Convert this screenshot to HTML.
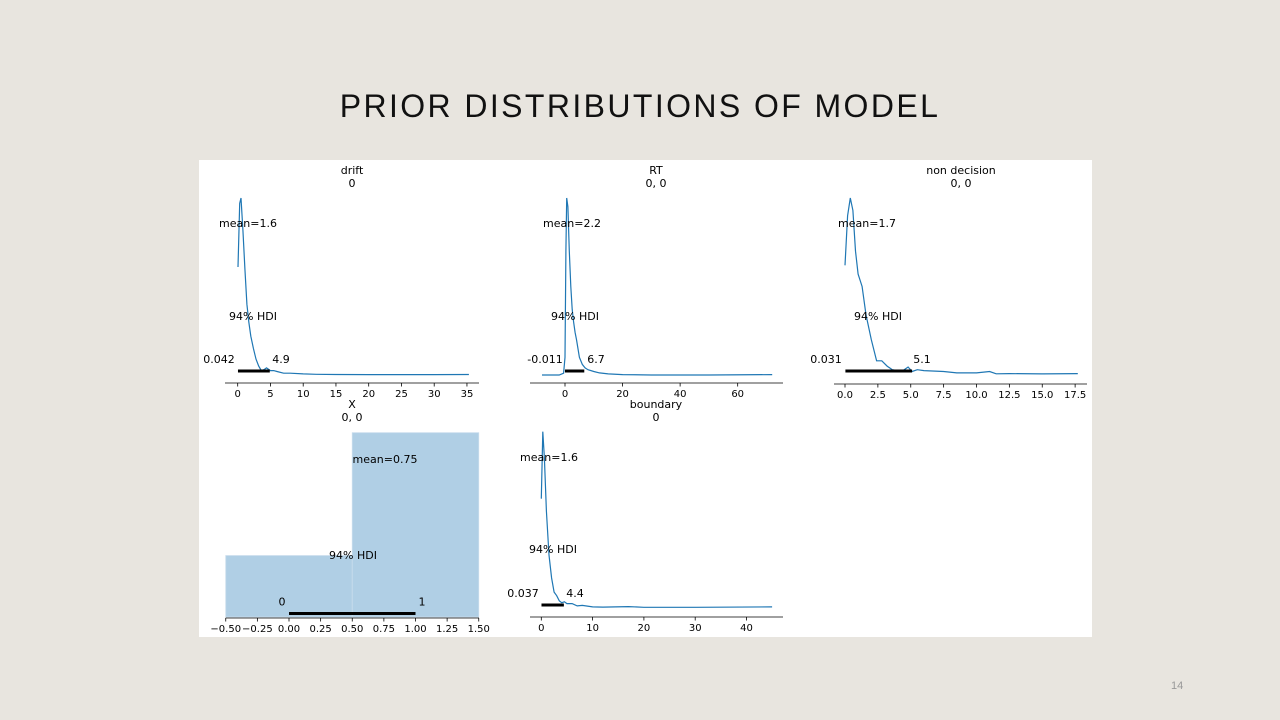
<!DOCTYPE html>
<html><head><meta charset="utf-8"><style>
body{margin:0;width:1280px;height:720px;background:#e8e5df;overflow:hidden;position:relative;font-family:"DejaVu Sans","Liberation Sans",sans-serif}
#title{position:absolute;top:88px;left:0;width:1280px;text-align:center;font:32px "Liberation Sans",sans-serif;letter-spacing:2.4px;color:#111}
#pg{position:absolute;left:1171px;top:680px;font:11px "Liberation Sans",sans-serif;color:#999}
svg{position:absolute;left:0;top:0}
</style></head><body>
<div id="title">PRIOR DISTRIBUTIONS OF MODEL</div>
<div id="pg">14</div>
<svg id="c" width="1280" height="720"><rect x="199" y="160" width="893" height="477" fill="#fff"/></svg>
<script>
// drift
const driftX=[0.05,0.3,0.5,0.8,1.1,1.4,1.7,2.0,2.4,2.8,3.2,3.6,4.0,4.4,5,5.5,6,7,8,10,12,15,20,25,30,35.3];
const driftY=[0.61,0.97,1.0,0.82,0.6,0.4,0.3,0.22,0.15,0.09,0.05,0.025,0.03,0.04,0.025,0.025,0.02,0.01,0.01,0.006,0.004,0.003,0.002,0.002,0.002,0.003];
// RT
const rtX=[-8,-2,-0.5,0,0.3,0.6,1,1.5,2,2.5,3,3.5,4,5,6,7,8,10,12,15,20,30,50,72];
const rtY=[0,0,0.01,0.1,0.7,1.0,0.95,0.7,0.5,0.37,0.3,0.24,0.2,0.1,0.06,0.04,0.03,0.02,0.012,0.006,0.002,0,0,0.002];
// non decision
const ndX=[0,0.2,0.4,0.6,0.8,1.0,1.3,1.6,2.0,2.4,2.8,3.2,3.6,4.0,4.4,4.8,5.1,5.5,6,7.5,8.5,10,11,11.5,12.5,15,17.7];
const ndY=[0.62,0.9,1.0,0.93,0.7,0.57,0.5,0.34,0.2,0.08,0.08,0.05,0.03,0.025,0.025,0.045,0.02,0.03,0.025,0.02,0.012,0.012,0.02,0.007,0.008,0.006,0.008];
// boundary
const bdX=[0,0.3,0.6,1.0,1.5,2.0,2.5,3.0,3.5,4.0,4.5,5,6,7,8,10,12,17,20,30,45];
const bdY=[0.62,1.0,0.85,0.55,0.3,0.17,0.09,0.07,0.04,0.03,0.035,0.025,0.025,0.012,0.015,0.006,0.005,0.008,0.004,0.004,0.006];
// X histogram
const xBins=[-0.5,0.5,1.5];
const xCounts=[0.25,0.75];
// tick labels
const driftTicks=[0,5,10,15,20,25,30,35];
const rtTicks=[0,20,40,60];
const ndTicks=[0,2.5,5,7.5,10,12.5,15,17.5];
const bdTicks=[0,10,20,30,40];
const xTicks=[-0.5,-0.25,0,0.25,0.5,0.75,1,1.25,1.5];

const svg=document.getElementById('c');const NS='http://www.w3.org/2000/svg';
function mk(t,a,p){const e=document.createElementNS(NS,t);for(const k in a)e.setAttribute(k,a[k]);(p||svg).appendChild(e);return e;}
function txt(x,y,s,anchor,size,p){const e=mk('text',{x:x,y:y,'text-anchor':anchor||'middle','font-size':size||11,fill:'#000'},p);e.textContent=s;return e;}
function panel(name,o){
  const g=mk('g',{});
  
  
  const sx=v=>o.x0+v*o.k, sy=v=>o.base-v*(o.base-o.peak);
  const ax=mk('line',{x1:o.a0,x2:o.a1,y1:o.ay,y2:o.ay,stroke:'#000','stroke-width':0.8},g);
  
  
  o.ticks.forEach(t=>{mk('line',{x1:sx(t),x2:sx(t),y1:o.ay,y2:o.ay+3.5,stroke:'#000','stroke-width':0.8},g);
    const l=txt(sx(t),o.ay+14,o.fmt?o.fmt(t):String(t),'middle',10,g);
    
    });
  if(o.xs){
    const d=o.xs.map((v,i)=>(i?'L':'M')+sx(v).toFixed(1)+','+sy(o.ys[i]).toFixed(1)).join('');
    const p=mk('path',{d:d,fill:'none',stroke:'#1f77b4','stroke-width':1.2},g);
    
    
  } else {
    const mx=Math.max(...o.counts);
    o.counts.forEach((c,i)=>{const r=mk('rect',{x:sx(o.bins[i]),width:sx(o.bins[i+1])-sx(o.bins[i]),y:o.base-(c/mx)*(o.base-o.peak),height:(c/mx)*(o.base-o.peak),fill:'#b0cfe5',stroke:'#c8dcec','stroke-width':0.8},g);
      
      });
  }
  const hb=mk('line',{x1:sx(o.h[0]),x2:sx(o.h[1]),y1:o.hy,y2:o.hy,stroke:'#000','stroke-width':3},g);
  
  
  [[o.t1,o.ty],[o.t2,o.ty+13]].forEach(([s,y])=>{const t=txt(o.cx,y,s,'middle',11,g);});
  const m=txt(o.mx,o.my,o.mean,'middle',11,g);
  const h=txt(o.hx,o.hly,'94% HDI','middle',11,g);
  const l1=txt(o.l1x,o.hy-8,o.hl[0],'middle',11,g);
  const l2=txt(o.l2x,o.hy-8,o.hl[1],'middle',11,g);
}
panel('drift',{x0:237.7,k:6.55,base:375,peak:198,ay:383,a0:225,a1:479,ticks:driftTicks,xs:driftX,ys:driftY,h:[0.042,4.9],hy:371,hl:['0.042','4.9'],l1x:219,l2x:281,t1:'drift',t2:'0',cx:352,ty:174,mean:'mean=1.6',mx:248,my:227,hx:253,hly:320});
panel('rt',{x0:565,k:2.878,base:375,peak:198,ay:383,a0:530,a1:783,ticks:rtTicks,xs:rtX,ys:rtY,h:[-0.011,6.7],hy:371,hl:['-0.011','6.7'],l1x:545,l2x:596,t1:'RT',t2:'0, 0',cx:656,ty:174,mean:'mean=2.2',mx:572,my:227,hx:575,hly:320});
panel('non-decision',{x0:845,k:13.15,base:375,peak:198,ay:384,a0:834,a1:1087,ticks:ndTicks,xs:ndX,ys:ndY,h:[0.031,5.1],hy:371,hl:['0.031','5.1'],l1x:826,l2x:922,t1:'non decision',t2:'0, 0',cx:961,ty:174,mean:'mean=1.7',mx:867,my:227,hx:878,hly:320,fmt:t=>t.toFixed(1)});
panel('x',{x0:289,k:126.5,base:617,peak:432.7,ay:618,a0:225.7,a1:479,ticks:xTicks,bins:xBins,counts:xCounts,h:[0,1],hy:613.5,hl:['0','1'],l1x:282,l2x:422,t1:'X',t2:'0, 0',cx:352,ty:408,mean:'mean=0.75',mx:385,my:463,hx:353,hly:559,fmt:t=>t.toFixed(2).replace('-','\u2212')});
panel('boundary',{x0:541.3,k:5.13,base:608,peak:431.7,ay:617,a0:530,a1:783,ticks:bdTicks,xs:bdX,ys:bdY,h:[0.037,4.4],hy:605,hl:['0.037','4.4'],l1x:523,l2x:575,t1:'boundary',t2:'0',cx:656,ty:408,mean:'mean=1.6',mx:549,my:461,hx:553,hly:553});
</script>
</body></html>
